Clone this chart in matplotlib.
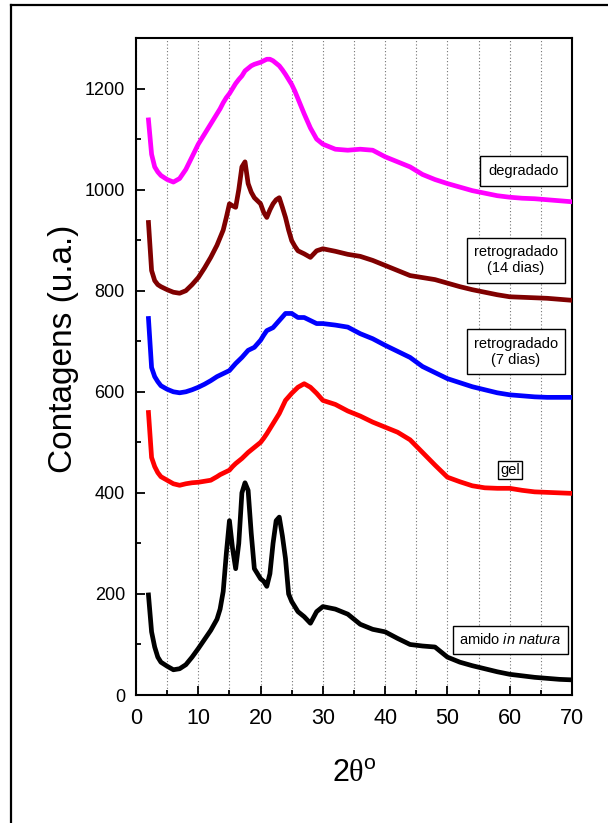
import matplotlib
matplotlib.use("Agg")
import matplotlib.pyplot as plt
from matplotlib.lines import Line2D
from matplotlib.ticker import MultipleLocator

plt.rcParams["font.family"] = ["Liberation Sans", "DejaVu Sans"]
plt.rcParams["mathtext.fontset"] = "custom"
plt.rcParams["mathtext.rm"] = "Liberation Serif"
plt.rcParams["mathtext.sf"] = "Liberation Sans"
plt.rcParams["mathtext.it"] = "Liberation Sans:italic"

# Diffraction angle (2 theta, degrees)
two_theta = [2, 2.5, 3, 3.5, 4, 5, 6, 7, 8, 9, 10, 11, 12, 13,
             13.5, 14, 14.5, 15, 15.5, 16, 16.5, 17, 17.5, 18, 18.5, 19, 19.5,
             20, 20.5, 21, 21.5, 22, 22.5, 23, 23.5, 24, 24.5, 25, 25.5, 26,
             27, 28, 29, 30, 32, 34, 36, 38, 40, 42, 44, 46, 48, 50, 52, 54,
             56, 58, 60, 62, 64, 66, 68, 70]

# Counts for each sample (curves offset vertically)
amido_natura = [198, 125, 95, 75, 65, 57, 50, 52, 60, 75, 92, 110, 128, 150,
                170, 205, 280, 345, 290, 250, 300, 400, 420, 405, 320, 250, 240,
                230, 225, 215, 240, 300, 345, 352, 315, 270, 200, 185, 175, 165,
                155, 142, 165, 175, 170, 160, 140, 130, 125, 112, 100, 97, 95, 75,
                65, 58, 52, 46, 41, 38, 35, 33, 31, 30]

gel = [559, 470, 452, 440, 432, 425, 418, 415, 418, 420, 421, 423, 425, 432,
       436, 439, 442, 445, 452, 458, 463, 468, 474, 480, 485, 490, 495,
       500, 508, 517, 527, 537, 547, 557, 570, 583, 590, 597, 603, 609,
       616, 609, 597, 583, 575, 562, 552, 540, 530, 520, 505, 480, 455, 431,
       422, 414, 410, 409, 409, 405, 402, 401, 400, 399]

retro_7 = [745, 648, 630, 620, 612, 605, 600, 598, 600, 604, 609, 615, 622, 630,
           633, 636, 639, 642, 649, 656, 662, 668, 675, 682, 685, 688, 695,
           702, 712, 721, 724, 727, 734, 741, 748, 755, 755, 755, 751, 747,
           747, 741, 735, 735, 732, 728, 715, 705, 692, 680, 668, 650, 638, 626,
           618, 610, 604, 598, 594, 592, 590, 589, 589, 589]

retro_14 = [935, 840, 820, 812, 808, 802, 797, 795, 800, 812, 826, 845, 866, 890,
            905, 920, 945, 972, 968, 965, 1000, 1045, 1055, 1012, 995, 984, 978,
            972, 955, 945, 960, 972, 980, 984, 965, 945, 920, 899, 888, 879,
            873, 866, 879, 883, 878, 872, 868, 860, 850, 840, 830, 826, 822, 815,
            808, 802, 797, 792, 788, 787, 786, 785, 783, 781]

degradado = [1138, 1070, 1045, 1035, 1028, 1020, 1015, 1022, 1040, 1065, 1090, 1110,
             1130, 1150, 1160, 1172, 1182, 1190, 1200, 1210, 1218, 1225, 1235,
             1240, 1245, 1248, 1250, 1252, 1255, 1258, 1258, 1255, 1250, 1245,
             1237, 1228, 1218, 1208, 1195, 1180, 1150, 1122, 1100, 1090, 1080,
             1078, 1080, 1078, 1065, 1055, 1045, 1030, 1020, 1012, 1005, 998,
             993, 988, 985, 983, 982, 980, 978, 976]

series = [amido_natura, gel, retro_7, retro_14, degradado]
colors = ["#000000", "#ff0000", "#0000ff", "#800000", "#ff00ff"]

# Sample labels and where their boxes sit (data coordinates)
labels = ["amido $\\mathit{in\\ natura}$", "gel", "retrogradado\n(7 dias)",
          "retrogradado\n(14 dias)", "degradado"]
label_x = [60.1, 60.1, 61.0, 61.0, 62.2]
label_y = [109, 445, 679, 860, 1037]
label_pad = [0.45, 0.15, 0.5, 0.5, 0.55]

fig = plt.figure(figsize=(6.08, 8.23), dpi=100)
ax = fig.add_axes([0.2237, 0.1555, 0.7171, 0.7983])

for vals, col in zip(series, colors):
    ax.plot(two_theta, vals, color=col, lw=3.4, solid_joinstyle="round", zorder=3)

for txt, lx, ly, pd in zip(labels, label_x, label_y, label_pad):
    ax.text(lx, ly, txt, ha="center", va="center", fontsize=10.5, linespacing=1.2,
            zorder=5,
            bbox=dict(boxstyle=f"square,pad={pd}", fc="white", ec="black", lw=1.0))

ax.set_xlim(0, 70)
ax.set_ylim(0, 1300)
ax.xaxis.set_major_locator(MultipleLocator(10))
ax.xaxis.set_minor_locator(MultipleLocator(5))
ax.yaxis.set_major_locator(MultipleLocator(200))
ax.yaxis.set_minor_locator(MultipleLocator(100))
ax.tick_params(which="both", direction="in", width=1.3, color="black")
ax.tick_params(which="major", length=6.5)
ax.tick_params(which="minor", length=3.5)
ax.tick_params(axis="x", which="major", labelsize=15.5, pad=9)
ax.tick_params(axis="y", which="major", labelsize=13, pad=8)
ax.xaxis.grid(True, which="both", linestyle=(0, (1, 2)), color="0.45", lw=0.8)
for s in ax.spines.values():
    s.set_linewidth(1.5)

ax.set_xlabel("$\\mathsf{2}\\mathrm{\\theta}^{\\mathsf{o}}$", fontsize=22, labelpad=22)
ax.set_ylabel("Contagens (u.a.)", fontsize=24, va="center")
ax.yaxis.set_label_coords(-0.166, 0.527)

# Page frame around the figure
fig.add_artist(Line2D([11 / 608, 11 / 608], [0, 1 - 5 / 823], color="black", lw=1.6,
                      transform=fig.transFigure))
fig.add_artist(Line2D([11 / 608, 1], [1 - 5 / 823, 1 - 5 / 823], color="black", lw=1.6,
                      transform=fig.transFigure))

fig.savefig("out.png", dpi=100)
